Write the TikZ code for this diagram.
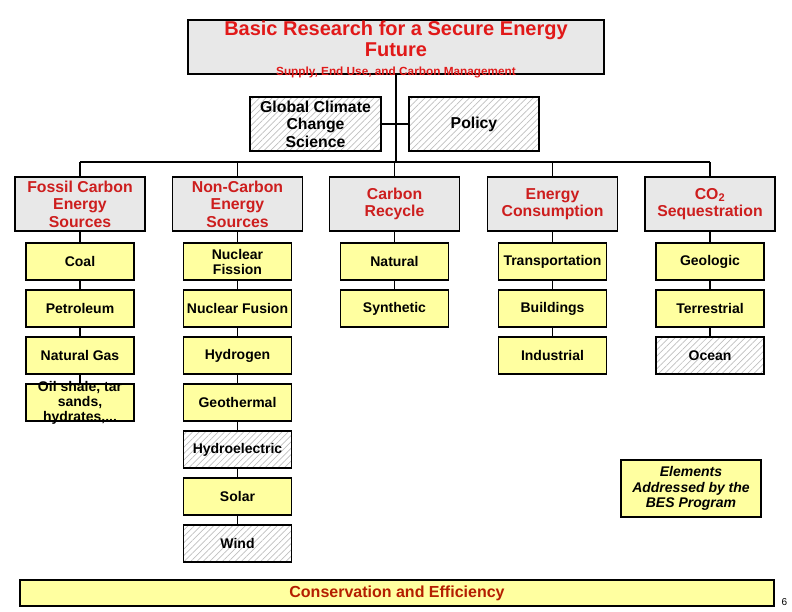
\documentclass[tikz,border=0pt]{standalone}
\usepackage{fontspec}
\setmainfont{Liberation Sans}
\usetikzlibrary{patterns.meta}

\definecolor{titlered}{RGB}{225,25,25}
\definecolor{headred}{RGB}{205,30,30}
\definecolor{consred}{RGB}{180,30,0}
\definecolor{boxgray}{RGB}{232,232,232}
\definecolor{boxyellow}{RGB}{255,255,160}

\begin{document}
\begin{tikzpicture}[x=1pt, y=-1pt,
    box/.style={draw, line width=1.8pt, inner sep=0pt, align=center},
    topbox/.style={box, fill=boxgray, minimum width=130pt, minimum height=54pt,
        text=headred, font=\bfseries\fontsize{15.8}{17.5}\selectfont},
    itembox/.style={box, fill=boxyellow, minimum width=108pt, minimum height=37pt,
        font=\bfseries\fontsize{14}{15}\selectfont},
    hatched/.style={pattern={Lines[angle=45, distance=4.5pt, line width=0.7pt]},
        pattern color=gray!50},
    link/.style={line width=1.8pt}]
    \useasboundingbox (0,0) rectangle (792,612);

    \def \colA {80};
    \def \colB {237.5};
    \def \colC {394.5};
    \def \colD {552.5};
    \def \colE {710};

    % title
    \node [box, fill=boxgray, minimum width=416pt, minimum height=54pt] (title) at ( 396, 47 ) {};
    \node [font=\bfseries\fontsize{20}{21}\selectfont, text=titlered, align=center] (titletext) at ( 396, 39 ) {Basic Research for a Secure Energy\\Future};
    \node [font=\bfseries\fontsize{11.8}{13}\selectfont, text=titlered] (subtitle) at ( 396, 72 ) {Supply, End Use, and Carbon Management};

    % cross-cutting boxes
    \node [box, hatched, minimum width=131pt, minimum height=54pt, font=\bfseries\fontsize{15.8}{17.5}\selectfont] (climate) at ( 315.5, 124 ) {Global Climate\\Change\\Science};
    \node [box, hatched, minimum width=130pt, minimum height=54pt, font=\bfseries\fontsize{15.8}{17.5}\selectfont] (policy) at ( 474, 124 ) {Policy};

    % column heads
    \node [topbox] (fossil) at ( \colA, 204 ) {Fossil Carbon\\Energy\\Sources};
    \node [topbox] (noncarbon) at ( \colB, 204 ) {Non-Carbon\\Energy\\Sources};
    \node [topbox] (recycle) at ( \colC, 204 ) {Carbon\\Recycle};
    \node [topbox] (consumption) at ( \colD, 204 ) {Energy\\Consumption};
    \node [topbox] (sequestration) at ( \colE, 204 ) {CO\textsubscript{2}\\Sequestration};

    % fossil carbon
    \node [itembox] (coal) at ( \colA, 261.5 ) {Coal};
    \node [itembox] (petroleum) at ( \colA, 308.5 ) {Petroleum};
    \node [itembox] (gas) at ( \colA, 355.5 ) {Natural Gas};
    \node [itembox] (oilshale) at ( \colA, 402.5 ) {};
    \node [font=\bfseries\fontsize{14}{15}\selectfont, align=center] (oiltext) at (oilshale.center) {Oil shale, tar\\sands,\\hydrates,...};

    % non-carbon
    \node [itembox] (fission) at ( \colB, 261.5 ) {Nuclear\\Fission};
    \node [itembox] (fusion) at ( \colB, 308.5 ) {Nuclear Fusion};
    \node [itembox] (hydrogen) at ( \colB, 355.5 ) {Hydrogen};
    \node [itembox] (geothermal) at ( \colB, 402.5 ) {Geothermal};
    \node [itembox, hatched] (hydro) at ( \colB, 449.5 ) {Hydroelectric};
    \node [itembox] (solar) at ( \colB, 496.5 ) {Solar};
    \node [itembox, hatched] (wind) at ( \colB, 543.5 ) {Wind};

    % carbon recycle
    \node [itembox] (natural) at ( \colC, 261.5 ) {Natural};
    \node [itembox] (synthetic) at ( \colC, 308.5 ) {Synthetic};

    % energy consumption
    \node [itembox] (transport) at ( \colD, 261.5 ) {Transportation};
    \node [itembox] (buildings) at ( \colD, 308.5 ) {Buildings};
    \node [itembox] (industrial) at ( \colD, 355.5 ) {Industrial};

    % sequestration
    \node [itembox] (geologic) at ( \colE, 261.5 ) {Geologic};
    \node [itembox] (terrestrial) at ( \colE, 308.5 ) {Terrestrial};
    \node [itembox, hatched] (ocean) at ( \colE, 355.5 ) {Ocean};

    % legend
    \node [itembox, minimum width=140pt, minimum height=57pt, font=\bfseries\itshape\fontsize{14}{15.5}\selectfont] (legend) at ( 691, 488.5 ) {Elements\\Addressed by the\\BES Program};

    % conservation
    \node [itembox, minimum width=754pt, minimum height=26pt, text=consred, font=\bfseries\fontsize{16}{18}\selectfont] (conservation) at ( 397, 593 ) {Conservation and Efficiency};
    \node [font=\fontsize{10}{11}\selectfont, anchor=base west] (pagenum) at ( 778, 605 ) {6};

    % tree
    \coordinate (hub) at ( 396, 162 );
    \draw [link] (title.south) -- (hub);
    \draw [link] (climate.east) -- (policy.west);
    \draw [link] (fossil.north |- hub) -- (sequestration.north |- hub);
    \foreach \n in {fossil, noncarbon, recycle, consumption, sequestration}
        \draw [link] (\n.north) -- (\n.north |- hub);

    % columns
    \draw [link] (fossil.south) -- (coal.north);
    \draw [link] (coal.south) -- (petroleum.north);
    \draw [link] (petroleum.south) -- (gas.north);
    \draw [link] (gas.south) -- (oilshale.north);

    \draw [link] (noncarbon.south) -- (fission.north);
    \draw [link] (fission.south) -- (fusion.north);
    \draw [link] (fusion.south) -- (hydrogen.north);
    \draw [link] (hydrogen.south) -- (geothermal.north);
    \draw [link] (geothermal.south) -- (hydro.north);
    \draw [link] (hydro.south) -- (solar.north);
    \draw [link] (solar.south) -- (wind.north);

    \draw [link] (recycle.south) -- (natural.north);
    \draw [link] (natural.south) -- (synthetic.north);

    \draw [link] (consumption.south) -- (transport.north);
    \draw [link] (transport.south) -- (buildings.north);
    \draw [link] (buildings.south) -- (industrial.north);

    \draw [link] (sequestration.south) -- (geologic.north);
    \draw [link] (geologic.south) -- (terrestrial.north);
    \draw [link] (terrestrial.south) -- (ocean.north);
\end{tikzpicture}
\end{document}
